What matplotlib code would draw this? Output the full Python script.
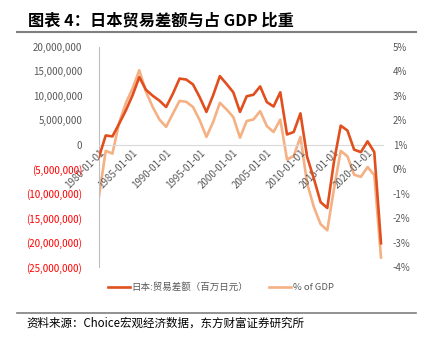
import matplotlib
matplotlib.use("Agg")
import matplotlib.pyplot as plt
from matplotlib.ticker import FuncFormatter, FixedLocator

plt.rcParams['font.family'] = ['Noto Sans CJK SC', 'DejaVu Sans']

# data
years = list(range(1980, 2023))
balance = [-2500000, 1900000, 1700000, 4300000, 7000000, 10100000, 13800000,
           11200000, 10000000, 9000000, 7700000, 10400000, 13500000, 13300000,
           12300000, 9700000, 6700000, 10100000, 14000000, 12400000, 10700000,
           6700000, 9900000, 10200000, 11900000, 8700000, 7800000, 10700000,
           2100000, 2600000, 6400000, -2500000, -6900000, -11700000, -12900000,
           -3400000, 3900000, 2900000, -1000000, -1500000, 700000, -1500000,
           -20100000]
pct_gdp = [-1.09, 0.75, 0.64, 1.9, 2.7, 3.3, 4.04, 3.16, 2.54, 2.03, 1.73,
           2.27, 2.79, 2.75, 2.54, 2.0, 1.32, 1.93, 2.71, 2.44, 2.13, 1.29,
           1.97, 2.03, 2.37, 1.76, 1.52, 2.03, 0.40, 0.54, 1.32, -0.58, -1.54,
           -2.24, -2.49, -0.79, 0.75, 0.53, -0.22, -0.31, 0.09, -0.24, -3.6]
tick_years = [1980, 1985, 1990, 1995, 2000, 2005, 2010, 2015, 2020]

red = '#E04F1D'
light = '#F5B083'

fig = plt.figure(figsize=(4.26, 3.45), dpi=100)
ax = fig.add_axes([0.2324, 0.2252, 0.6667, 0.6394])
ax2 = ax.twinx()

x = list(range(len(years)))
ax.plot(x, balance, color=red, lw=1.9, zorder=3, label='日本:贸易差额（百万日元）')
ax2.plot(x, pct_gdp, color=light, lw=1.9, zorder=2, label='% of GDP')
ax.set_zorder(ax2.get_zorder() + 1)
ax.patch.set_visible(False)

# spines first (moving a spine resets the ticks)
for s in ['top', 'right']:
    ax.spines[s].set_visible(False)
for s in ['top', 'right', 'left', 'bottom']:
    ax2.spines[s].set_visible(False)
ax.spines['left'].set_color('#BFBFBF')
ax.spines['bottom'].set_position(('data', 0))
ax.spines['bottom'].set_color('#D9D9D9')

ax.set_xlim(0, 42.3)
ax.set_ylim(-25000000, 20000000)
ax2.set_ylim(-4, 5)
ax.set_yticks(range(-25000000, 20000001, 5000000))
ax2.set_yticks(range(-4, 6))


def fmt_left(v, pos):
    if v < 0:
        return '({:,.0f})'.format(-v)
    return '{:,.0f}'.format(v)


ax.yaxis.set_major_formatter(FuncFormatter(fmt_left))
ax2.yaxis.set_major_formatter(FuncFormatter(lambda v, p: '{:.0f}%'.format(v)))

ax.tick_params(axis='y', length=0, labelsize=7, pad=12)
ax2.tick_params(axis='y', length=0, labelsize=7, labelcolor='#595959', pad=7)
ax.tick_params(axis='x', length=0, pad=2)
for lab, v in zip(ax.get_yticklabels(), ax.get_yticks()):
    lab.set_color('#FF0000' if v < 0 else '#595959')

tick_idx = [years.index(y) for y in tick_years]
ax.xaxis.set_major_locator(FixedLocator(tick_idx))
ax.set_xticklabels(['%d-01-01' % y for y in tick_years], rotation=45,
                   ha='right', va='top', rotation_mode='anchor',
                   fontsize=7, color='#595959')

h1, l1 = ax.get_legend_handles_labels()
h2, l2 = ax2.get_legend_handles_labels()
fig.legend(h1 + h2, l1 + l2, loc='center', bbox_to_anchor=(0.518, 0.168),
           ncol=2, frameon=False, fontsize=6.8, labelcolor='#595959',
           handlelength=2.3, handletextpad=0.2, columnspacing=2.2)

# title and source
fig.text(0.066, 0.942, '图表 4：日本贸易差额与占 GDP 比重', fontsize=11.7,
         fontweight='bold', va='center', ha='left', color='#000000')
fig.add_artist(plt.Line2D([0.04, 0.976], [0.907, 0.907], color='#7F7F7F', lw=1.5))
fig.add_artist(plt.Line2D([0.04, 0.976], [0.093, 0.093], color='#7F7F7F', lw=1.2))
fig.text(0.063, 0.063, '资料来源：Choice宏观经济数据，东方财富证券研究所', fontsize=8.3,
         va='center', ha='left', color='#000000')

fig.savefig('out.png', dpi=100)
